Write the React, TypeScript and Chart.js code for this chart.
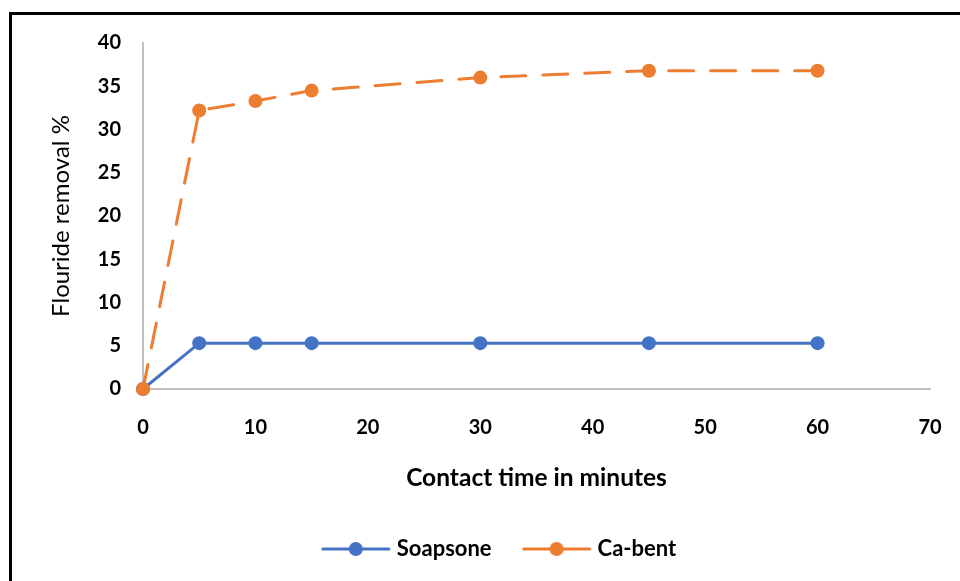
import React, { useEffect, useRef } from "react";
import { Chart, registerables } from "chart.js";

Chart.register(...registerables);

const contactTimes = [0, 5, 10, 15, 30, 45, 60];
const soapsoneValues = [0, 5.3, 5.3, 5.3, 5.3, 5.3, 5.3];
const caBentValues = [0, 32.2, 33.3, 34.5, 36.0, 36.8, 36.8];
const seriesNames = ["Soapsone", "Ca-bent"];

const BLUE = "#4472C4";
const ORANGE = "#ED7D31";
const AXIS = "#BFBFBF";
const FONT = "Lato, 'Open Sans', sans-serif";

function makeLegendMarker(color: string): HTMLCanvasElement {
  const c = document.createElement("canvas");
  c.width = 70;
  c.height = 16;
  const ctx = c.getContext("2d")!;
  ctx.strokeStyle = color;
  ctx.lineWidth = 3;
  ctx.lineCap = "round";
  ctx.beginPath();
  ctx.moveTo(2, 8);
  ctx.lineTo(68, 8);
  ctx.stroke();
  ctx.fillStyle = color;
  ctx.beginPath();
  ctx.arc(35, 8, 7, 0, Math.PI * 2);
  ctx.fill();
  return c;
}

const legendShift = {
  id: "legendShift",
  afterLayout(chart: any) {
    const lg = chart.legend;
    if (lg) {
      lg.left += 36;
      lg.right += 36;
    }
  },
};

export default function App() {
  const canvasRef = useRef<HTMLCanvasElement | null>(null);

  useEffect(() => {
    document.body.style.margin = "0";
    const canvas = canvasRef.current;
    if (!canvas) return;
    const markers = [makeLegendMarker(BLUE), makeLegendMarker(ORANGE)];
    const chart = new Chart(canvas, {
      type: "line",
      data: {
        datasets: [
          {
            label: seriesNames[0],
            data: contactTimes.map((t, i) => ({ x: t, y: soapsoneValues[i] })),
            borderColor: BLUE,
            backgroundColor: BLUE,
            borderWidth: 3,
            pointRadius: 7,
            pointHoverRadius: 7,
            pointBorderWidth: 0,
            tension: 0,
            clip: false,
            order: 1,
          },
          {
            label: seriesNames[1],
            data: contactTimes.map((t, i) => ({ x: t, y: caBentValues[i] })),
            borderColor: ORANGE,
            backgroundColor: ORANGE,
            borderWidth: 3,
            borderDash: [25, 17],
            borderCapStyle: "round",
            pointRadius: 7,
            pointHoverRadius: 7,
            pointBorderWidth: 0,
            tension: 0,
            clip: false,
            order: 0,
          },
        ],
      },
      plugins: [legendShift],
      options: {
        animation: false,
        responsive: false,
        maintainAspectRatio: false,
        layout: { padding: { left: 0, right: 30, top: 43, bottom: 11 } },
        scales: {
          x: {
            type: "linear",
            min: 0,
            max: 70,
            ticks: {
              stepSize: 10,
              color: "#000",
              padding: 27,
              font: { family: FONT, size: 20, weight: "bold" },
            },
            grid: { display: false, drawTicks: false },
            border: { display: true, color: AXIS, width: 2 },
            title: {
              display: true,
              text: "Contact time in minutes",
              color: "#000",
              font: { family: FONT, size: 24.5, weight: "bold" },
              padding: { top: 0, bottom: 10 },
            },
            afterFit: (s: any) => {
              s.height = 114;
              s.paddingLeft = 12;
              s.paddingRight = 12;
            },
          },
          y: {
            type: "linear",
            min: 0,
            max: 40,
            ticks: {
              stepSize: 5,
              color: "#000",
              padding: 22,
              font: { family: FONT, size: 20, weight: "bold" },
            },
            grid: { display: false, drawTicks: false },
            border: { display: true, color: AXIS, width: 2 },
            title: {
              display: true,
              text: "Flouride removal %",
              color: "#000",
              font: { family: FONT, size: 24, weight: "normal" },
              padding: { top: 47, bottom: 0 },
            },
            afterFit: (s: any) => {
              s.width = 143;
            },
          },
        },
        plugins: {
          tooltip: { enabled: false },
          legend: {
            display: true,
            position: "bottom",
            labels: {
              usePointStyle: true,
              pointStyleWidth: 60,
              padding: 35,
              color: "#000",
              font: { family: FONT, size: 22, weight: "bold" },
              sort: (a: any, b: any) => a.datasetIndex - b.datasetIndex,
              generateLabels: (ch: any) => {
                const items = Chart.defaults.plugins.legend.labels.generateLabels(ch);
                return items.map((it: any) => ({ ...it, pointStyle: markers[it.datasetIndex], lineDash: [] }));
              },
            },
          },
        },
      },
    });
    return () => chart.destroy();
  }, []);

  return (
    <div style={{ position: "fixed", left: 0, top: 0, width: 960, height: 581, overflow: "hidden", background: "#fff" }}>
      <div
        style={{
          position: "absolute",
          left: 9,
          top: 12,
          width: 1100,
          height: 1100,
          border: "3px solid #000",
          boxSizing: "border-box",
        }}
      />
      <canvas ref={canvasRef} width={960} height={581} style={{ position: "absolute", left: 0, top: 0 }} />
    </div>
  );
}
